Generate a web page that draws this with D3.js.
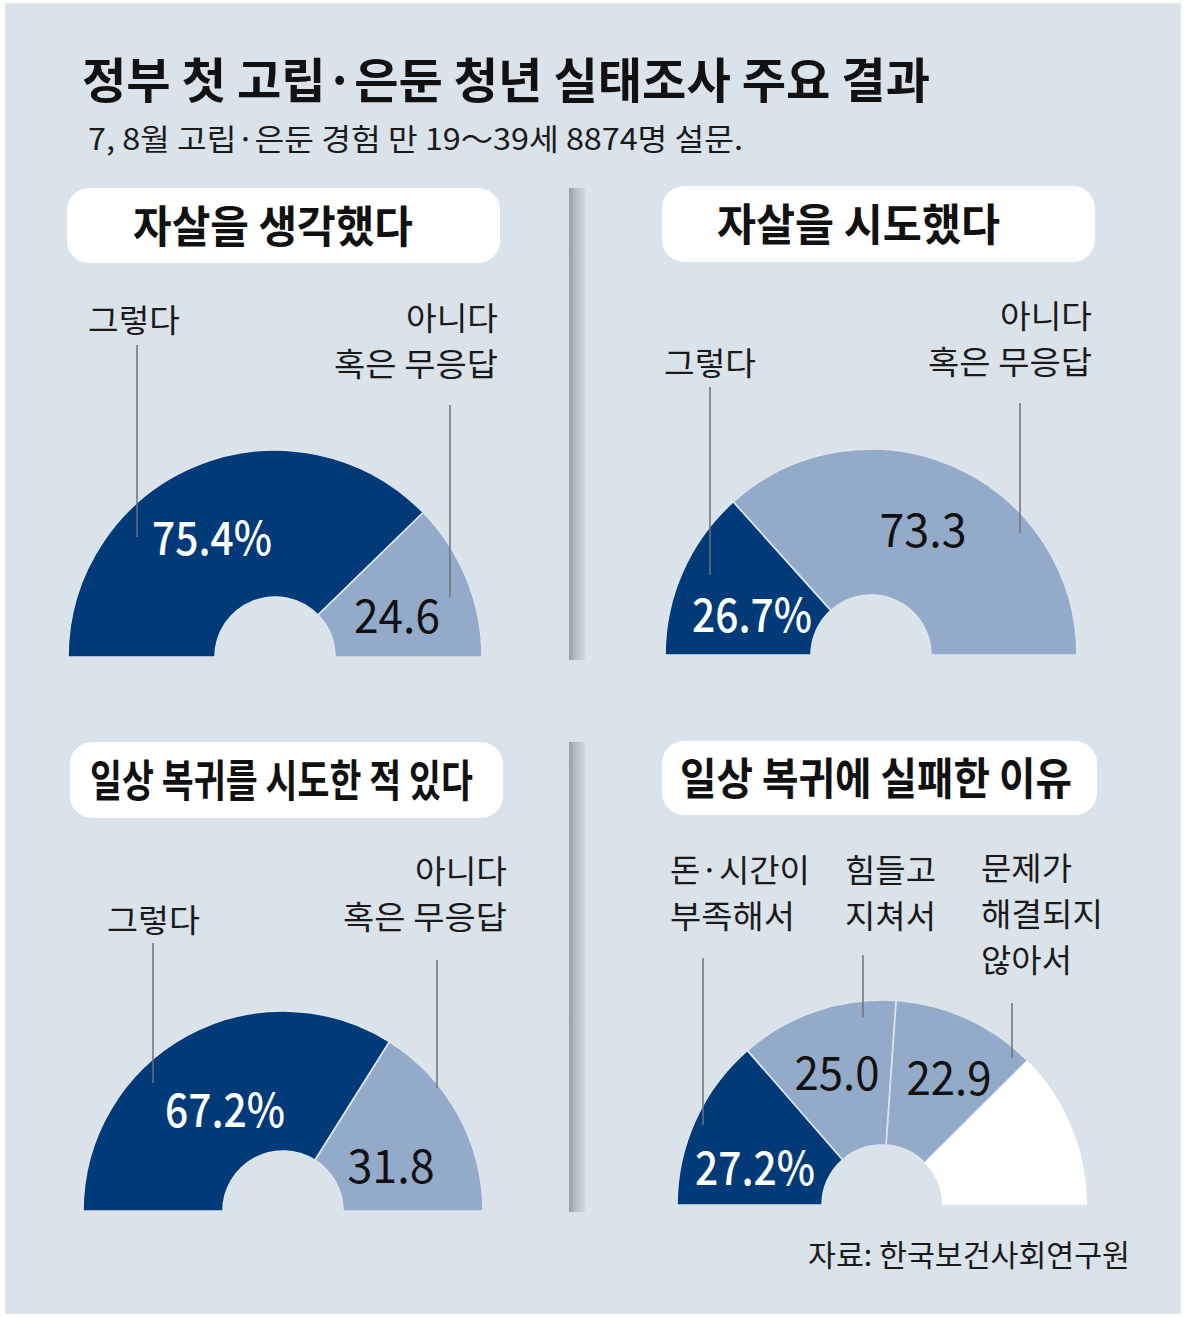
<!DOCTYPE html>
<html><head><meta charset="utf-8">
<script src="https://cdn.jsdelivr.net/npm/d3@7/dist/d3.min.js"></script>
<style>html,body{margin:0;padding:0;background:#fff;}svg{display:block;}</style>
</head><body>
<script>
// ---------- data ----------
const titleText = "정부 첫 고립·은둔 청년 실태조사 주요 결과";
const subtitleText = "7, 8월 고립·은둔 경험 만 19～39세 8874명 설문.";
const sourceText = "자료: 한국보건사회연구원";
const panelTitles = ["자살을 생각했다", "자살을 시도했다", "일상 복귀를 시도한 적 있다", "일상 복귀에 실패한 이유"];
const thoughtValues = [75.4, 24.6];
const attemptValues = [26.7, 73.3];
const recoveryValues = [67.2, 31.8];
const failureValues = [27.2, 25.0, 22.9, 24.9];
const yesNoLabels = [["그렇다"], ["아니다", "혹은 무응답"]];
const failureLabels = [["돈·시간이", "부족해서"], ["힘들고", "지쳐서"], ["문제가", "해결되지", "않아서"], []];

// ---------- style ----------
const W = 1186, H = 1317;
const BG = "#dae2ea", DARK = "#013a78", LIGHT = "#93abc9", LINE = "#6c727a";
const FONT = "'Noto Sans CJK KR','Noto Sans',sans-serif";

const svg = d3.select("body").append("svg").attr("width", W).attr("height", H);
const defs = svg.append("defs");
const grad = defs.append("linearGradient").attr("id", "divg").attr("x1", 0).attr("x2", 1).attr("y1", 0).attr("y2", 0);
grad.append("stop").attr("offset", 0).attr("stop-color", "#949ca6");
grad.append("stop").attr("offset", 0.35).attr("stop-color", "#b3bac3");
grad.append("stop").attr("offset", 1).attr("stop-color", "#d0d7de");

svg.append("rect").attr("x", 5).attr("y", 3).attr("width", 1176).attr("height", 1311).attr("fill", BG);

function txt(g, s, x, y, size, len, opts = {}) {
  return g.append("text").attr("x", x).attr("y", y)
    .attr("font-family", FONT).attr("font-size", size)
    .attr("font-weight", opts.weight || 400)
    .attr("fill", opts.fill || "#111")
    .attr("text-anchor", opts.anchor || "start")
    .attr("textLength", len).attr("lengthAdjust", "spacingAndGlyphs")
    .text(s);
}

txt(svg, titleText, 82, 98, 48, 848, {weight: 700});
txt(svg, subtitleText, 88, 150, 30, 655, {fill: "#1a1a1a"});
txt(svg, sourceText, 808, 1266, 30, 322, {fill: "#1a1a1a"});

// dividers
[[188, 660], [742, 1212]].forEach(([y0, y1]) => {
  svg.append("rect").attr("x", 569).attr("y", y0).attr("width", 16).attr("height", y1 - y0).attr("fill", "url(#divg)");
});

// ---------- panels (layout) ----------
const panels = [
  { title: panelTitles[0], box: [67, 188, 433, 75], titleX: 133, titleLen: 280, titleY: 243,
    cx: 275, cy: 657, R: 207, r: 60, values: thoughtValues, colors: [DARK, LIGHT],
    valPos: [[212, 555, 120], [397, 633, 86]],
    labels: yesNoLabels,
    labelPos: [ {x: 88, y: 332, anchor: "start", lens: [92]}, {x: 498, y: 330, anchor: "end", lens: [92, 164]} ],
    leaders: [[137, 345, 537], [450, 405, 597]] },
  { title: panelTitles[1], box: [662, 186, 433, 76], titleX: 717, titleLen: 283, titleY: 241,
    cx: 871, cy: 655, R: 206, r: 60, values: attemptValues, colors: [DARK, LIGHT],
    valPos: [[752, 632, 120], [923, 547, 87]],
    labels: yesNoLabels,
    labelPos: [ {x: 664, y: 375, anchor: "start", lens: [92]}, {x: 1092, y: 328, anchor: "end", lens: [92, 164]} ],
    leaders: [[710, 387, 575], [1020, 403, 533]] },
  { title: panelTitles[2], box: [70, 742, 433, 76], titleX: 90, titleLen: 383, titleY: 797,
    cx: 283, cy: 1211, R: 200, r: 60, values: recoveryValues, colors: [DARK, LIGHT],
    valPos: [[225, 1127, 120], [391, 1183, 87]],
    labels: yesNoLabels,
    labelPos: [ {x: 107, y: 932, anchor: "start", lens: [93]}, {x: 507, y: 883, anchor: "end", lens: [92, 164]} ],
    leaders: [[153, 943, 1083], [437, 960, 1088]] },
  { title: panelTitles[3], box: [662, 741, 435, 74], titleX: 680, titleLen: 392, titleY: 795,
    cx: 882, cy: 1205, R: 205, r: 60, values: failureValues, colors: [DARK, LIGHT, LIGHT, "#ffffff"],
    valPos: [[755, 1185, 120], [837, 1090, 85], [949, 1095, 85], null],
    labels: failureLabels,
    labelPos: [ {x: 670, y: 882, anchor: "start", lens: [140, 125]}, {x: 845, y: 882, anchor: "start", lens: [91, 91]},
                {x: 981, y: 880, anchor: "start", lens: [91, 122, 91]} ],
    leaders: [[703, 958, 1125], [863, 955, 1017], [1012, 1003, 1058]] }
];

const pie = d3.pie().sort(null).startAngle(-Math.PI / 2).endAngle(Math.PI / 2);
const fmt = d3.format(".1f");

panels.forEach(p => {
  const g = svg.append("g");
  // title box
  g.append("rect").attr("x", p.box[0]).attr("y", p.box[1]).attr("width", p.box[2]).attr("height", p.box[3])
    .attr("rx", 22).attr("fill", "#fff");
  txt(g, p.title, p.titleX, p.titleY, 44, p.titleLen, {weight: 700});

  // half donut
  const arc = d3.arc().innerRadius(p.r).outerRadius(p.R);
  const arcs = pie(p.values);
  const dg = g.append("g").attr("transform", `translate(${p.cx},${p.cy})`);
  dg.selectAll("path").data(arcs).join("path")
    .attr("d", arc)
    .attr("fill", (d, i) => p.colors[i])
    .attr("stroke", (d, i) => p.colors[i] === "#ffffff" ? "none" : "#dde5ee")
    .attr("stroke-width", 1.6)
    .attr("stroke-linejoin", "round");

  // leader lines
  p.leaders.forEach(([x, y0, y1]) => {
    g.append("line").attr("x1", x).attr("x2", x).attr("y1", y0).attr("y2", y1)
      .attr("stroke", LINE).attr("stroke-width", 1.5);
  });

  // category labels
  p.labelPos.forEach((lp, i) => {
    const lines = p.labels[i];
    lines.forEach((s, k) => {
      txt(g, s, lp.x, lp.y + k * 46, 32, lp.lens[k], {anchor: lp.anchor, fill: "#1a1a1a"});
    });
  });

  // value labels
  arcs.forEach((a, i) => {
    const vp = p.valPos[i];
    if (!vp) return;
    const isFirst = i === 0;
    const s = isFirst ? fmt(a.data) + "%" : fmt(a.data);
    txt(g, s, vp[0], vp[1], 46, vp[2], {anchor: "middle", fill: isFirst ? "#ffffff" : "#111",
      weight: isFirst ? 500 : 400});
  });
});
</script>
</body></html>
